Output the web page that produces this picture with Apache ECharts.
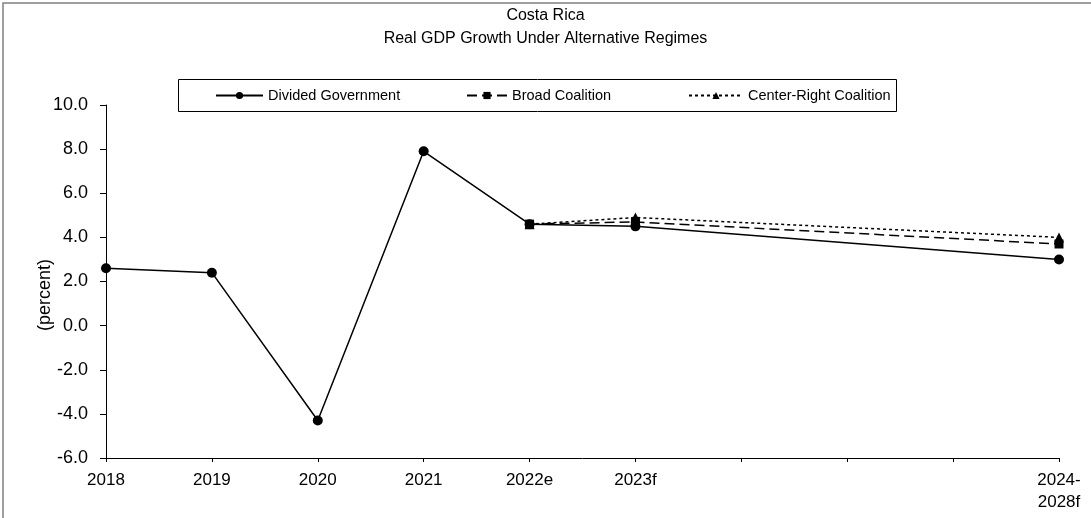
<!DOCTYPE html>
<html>
<head>
<meta charset="utf-8">
<script src="https://cdn.jsdelivr.net/npm/echarts@6/dist/echarts.min.js"></script>
<style>
  html, body { margin: 0; padding: 0; background: #fff; }
  #chart { width: 1091px; height: 518px; }
</style>
</head>
<body>
<div id="chart"></div>
<script>
// Period labels (blank slots keep the multi-year forecast spaced out)
const categories = ['2018', '2019', '2020', '2021', '2022e', '2023f', '', '', '', '2024-\n2028f'];

// Real GDP growth, percent
const dividedGovernment = [2.6, 2.4, -4.3, 7.9, 4.6, 4.5, null, null, null, 3.0];
const broadCoalition = [null, null, null, null, 4.6, 4.7, null, null, null, 3.7];
const centerRightCoalition = [null, null, null, null, 4.6, 4.9, null, null, null, 4.0];

const FONT = '"Liberation Sans", Arial, sans-serif';

const chart = echarts.init(document.getElementById('chart'), null, { renderer: 'canvas' });

const legendCommon = {
  top: 88,
  padding: 0,
  itemHeight: 9,
  itemGap: 0,
  textStyle: { fontFamily: FONT, fontSize: 14.5, color: '#000' },
  selectedMode: false
};

chart.setOption({
  animation: false,
  backgroundColor: '#fff',
  title: {
    text: 'Costa Rica\nReal GDP Growth Under Alternative Regimes',
    left: 'center',
    top: -1,
    textStyle: { fontFamily: FONT, fontSize: 16, fontWeight: 'normal', color: '#000', lineHeight: 23 }
  },
  legend: [
    Object.assign({}, legendCommon, { left: 215, itemWidth: 47, data: ['Divided Government'] }),
    Object.assign({}, legendCommon, { left: 466, itemWidth: 40, data: ['Broad Coalition'] }),
    Object.assign({}, legendCommon, { left: 688, itemWidth: 54, data: ['Center-Right Coalition'] })
  ],
  graphic: [
    { type: 'rect', shape: { x: 3, y: 3, width: 1100, height: 530 }, style: { fill: 'none', stroke: '#808080', lineWidth: 1.5 }, silent: true },
    { type: 'rect', shape: { x: 178.5, y: 79.5, width: 718, height: 32 }, style: { fill: 'none', stroke: '#000', lineWidth: 1 }, silent: true, z: -1 },
    { type: 'text', x: 45, y: 295, rotation: Math.PI / 2,
      style: { text: '(percent)', fontFamily: FONT, fontSize: 18, fill: '#000', align: 'center', verticalAlign: 'middle' } }
  ],
  grid: { left: 106, right: 32, top: 105, bottom: 60, containLabel: false },
  xAxis: {
    type: 'category',
    data: categories,
    boundaryGap: false,
    axisLine: { onZero: false, lineStyle: { color: '#000', width: 1 } },
    axisTick: { show: true, interval: 0, length: 4, lineStyle: { color: '#000' } },
    axisLabel: { interval: 0, margin: 11, fontFamily: FONT, fontSize: 17, color: '#000', lineHeight: 22 },
    splitLine: { show: false }
  },
  yAxis: {
    type: 'value',
    min: -6,
    max: 10,
    interval: 2,
    axisLine: { show: true, lineStyle: { color: '#000', width: 1 } },
    axisTick: { show: true, length: 6, lineStyle: { color: '#000' } },
    axisLabel: { margin: 18, fontFamily: FONT, fontSize: 18, color: '#000', formatter: v => v.toFixed(1) },
    splitLine: { show: false }
  },
  series: [
    {
      name: 'Divided Government',
      type: 'line',
      data: dividedGovernment,
      connectNulls: true,
      symbol: 'circle',
      symbolSize: 10,
      itemStyle: { color: '#000' },
      lineStyle: { color: '#000', width: 1.5, type: 'solid' },
      z: 2
    },
    {
      name: 'Center-Right Coalition',
      type: 'line',
      data: centerRightCoalition,
      connectNulls: true,
      symbol: 'triangle',
      symbolSize: 10,
      itemStyle: { color: '#000' },
      lineStyle: { color: '#000', width: 1.5, type: [3, 3] },
      z: 3
    },
    {
      name: 'Broad Coalition',
      type: 'line',
      data: broadCoalition,
      connectNulls: true,
      symbol: 'rect',
      symbolSize: 9,
      itemStyle: { color: '#000' },
      lineStyle: { color: '#000', width: 1.5, type: [10, 5] },
      z: 4
    }
  ]
});
</script>
</body>
</html>
